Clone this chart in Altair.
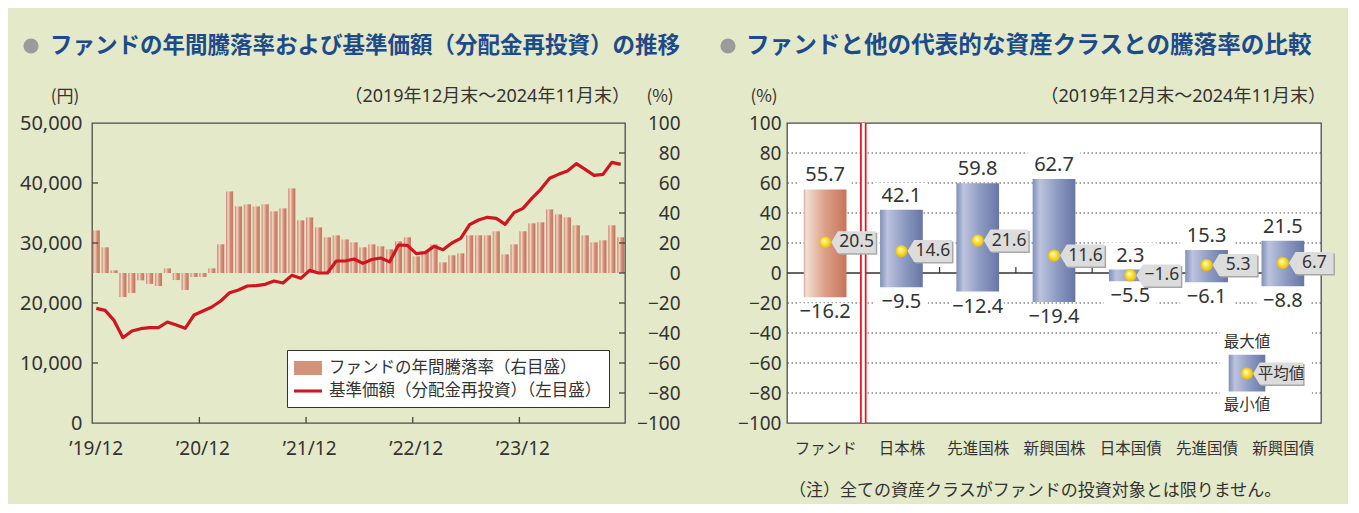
import json
import altair as alt
import pandas as pd

LATIN = "Noto Sans, Noto Sans CJK JP, sans-serif"
JP = "Noto Sans CJK JP, Noto Sans, sans-serif"
BG = "#e3e9c9"
TXT = "#333333"
TITLE_BLUE = "#1d4b8a"
RED = "#cf1520"
BULLET = "#9b9b9b"

# ---------------- left chart data ----------------
months = []
_y, _m = 2019, 12
for _ in range(60):
    months.append(f"{_y}-{_m:02d}")
    _m += 1
    if _m > 12:
        _m, _y = 1, _y + 1

year_ticks = ["2019-12", "2020-12", "2021-12", "2022-12", "2023-12"]

annual_return = [28.4, 17.1, 1.8, -16.0, -13.3, -4.9, -7.3, -8.7, 3.1, -4.7,
                 -11.3, -2.7, -2.7, 3.1, 19.1, 54.4, 44.4, 45.8, 44.4, 45.8,
                 41.1, 43.1, 56.4, 35.1, 37.1, 30.4, 23.8, 25.1, 22.4, 20.4,
                 17.1, 19.1, 17.8, 15.8, 21.1, 23.8, 11.1, 14.4, 19.1, 7.1,
                 11.8, 13.1, 25.1, 25.1, 25.1, 27.8, 12.4, 19.1, 27.8, 33.1,
                 33.8, 42.4, 39.1, 37.1, 31.8, 25.1, 20.4, 21.8, 31.8, 23.8]

nav = [19100, 18780, 17100, 14220, 15330, 15720, 15890, 15890, 16830, 16330,
       15780, 18000, 18670, 19330, 20330, 21720, 22170, 22830, 22890, 23110,
       23670, 23330, 24610, 24110, 25440, 25000, 25000, 27000, 27000, 27330,
       26600, 27250, 27500, 26850, 29670, 29610, 28220, 28390, 29440, 28890,
       30000, 30780, 33060, 33830, 34280, 34110, 33110, 35060, 35780, 37440,
       38940, 40780, 41440, 42000, 43220, 42280, 41280, 41440, 43440, 43110]

yen_ticks = [0, 10000, 20000, 30000, 40000, 50000]
pct_ticks = [-100, -80, -60, -40, -20, 0, 20, 40, 60, 80, 100]
legend_labels = ["ファンドの年間騰落率（右目盛）", "基準価額（分配金再投資）（左目盛）"]

# ---------------- right chart data ----------------
cats = ["ファンド", "日本株", "先進国株", "新興国株", "日本国債", "先進国債", "新興国債"]
max_v = [55.7, 42.1, 59.8, 62.7, 2.3, 15.3, 21.5]
min_v = [-16.2, -9.5, -12.4, -19.4, -5.5, -6.1, -8.8]
avg_v = [20.5, 14.6, 21.6, 11.6, -1.6, 5.3, 6.7]
key_pos = [6.03]
key_max = [-54.5]
key_min = [-79.0]
key_avg = [-67.0]
key_texts = ["最大値", "平均値", "最小値"]

LW, LH = 533, 300
RW, RH = 534, 300

BAR_GRAD = {"gradient": "linear", "x1": 0, "y1": 0, "x2": 1, "y2": 0,
            "stops": [{"offset": 0, "color": "#c97f67"}, {"offset": 0.3, "color": "#f2d5c7"},
                      {"offset": 0.6, "color": "#d48f76"}, {"offset": 1, "color": "#c4735b"}]}
FUND_GRAD = {"gradient": "linear", "x1": 0, "y1": 0, "x2": 1, "y2": 0,
             "stops": [{"offset": 0, "color": "#d9a08a"}, {"offset": 0.05, "color": "#f3e0d4"},
                       {"offset": 0.5, "color": "#dc9f88"}, {"offset": 1, "color": "#c8735b"}]}
BLUE_GRAD = {"gradient": "linear", "x1": 0, "y1": 0, "x2": 1, "y2": 0,
             "stops": [{"offset": 0, "color": "#8090b8"}, {"offset": 0.17, "color": "#bcc3dd"},
                       {"offset": 0.55, "color": "#8f9cc3"}, {"offset": 1, "color": "#6676a5"}]}
DOT_GRAD = {"gradient": "radial", "x1": 0.4, "y1": 0.35, "r1": 0, "x2": 0.5, "y2": 0.5, "r2": 0.55,
            "stops": [{"offset": 0, "color": "#fffde0"}, {"offset": 0.4, "color": "#ffe84a"},
                      {"offset": 1, "color": "#e3b000"}]}


def txt(s, x, y, size, color=TXT, align="left", font=JP, weight="normal"):
    return alt.Chart(pd.DataFrame({"t": [s]})).mark_text(
        align=align, baseline="middle", font=font, fontSize=size, color=color, fontWeight=weight
    ).encode(text="t:N", x=alt.value(x), y=alt.value(y))


def bullet(x, y):
    return alt.Chart(pd.DataFrame({"t": [0]})).mark_circle(size=230, color=BULLET, opacity=1).encode(
        x=alt.value(x), y=alt.value(y))


# ================= LEFT CHART =================
ldf = pd.DataFrame({"month": months, "ret": annual_return, "nav": nav})

xL_scale = alt.Scale(domain=months, paddingInner=0.2, paddingOuter=0.08)
xL_axis = alt.Axis(values=year_ticks,
                   labelExpr="'\u2019' + slice(datum.value, 2, 4) + '/' + slice(datum.value, 5)",
                   labelFont=LATIN, labelFontSize=19, labelColor=TXT, labelPadding=16, labelAngle=0,
                   ticks=False, domain=False, grid=False, title=None, bandPosition=0,
                   labelOverlap=False)

bars = alt.Chart(ldf).mark_bar(color=BAR_GRAD).encode(
    x=alt.X("month:O", scale=xL_scale, axis=xL_axis),
    y=alt.Y("ret:Q", scale=alt.Scale(domain=[-100, 100], nice=False),
            axis=alt.Axis(orient="right", values=pct_ticks, labelFont=LATIN, labelFontSize=19,
                          labelColor=TXT, labelAlign="right", labelPadding=55, ticks=False,
                          domain=False, grid=False, title=None, labelOverlap=False)),
)

line = alt.Chart(ldf).mark_line(color=RED, strokeWidth=3.2, strokeJoin="round").encode(
    x=alt.X("month:O", scale=xL_scale, axis=xL_axis),
    y=alt.Y("nav:Q", scale=alt.Scale(domain=[0, 50000], nice=False),
            axis=alt.Axis(orient="left", values=yen_ticks, labelExpr="format(datum.value, ',')",
                          labelFont=LATIN, labelFontSize=20, labelColor=TXT, labelPadding=10,
                          ticks=False, domain=False, grid=False, title=None, labelOverlap=False)),
)

ytick_yen = alt.Chart(pd.DataFrame({"v": yen_ticks[1:-1]})).mark_rule(color="#444", strokeWidth=1.3).encode(
    y=alt.Y("v:Q", scale=alt.Scale(domain=[0, 50000], nice=False), axis=None),
    x=alt.value(0), x2=alt.value(6))
ytick_pct = alt.Chart(pd.DataFrame({"v": pct_ticks[1:-1]})).mark_rule(color="#444", strokeWidth=1.3).encode(
    y=alt.Y("v:Q", scale=alt.Scale(domain=[-100, 100], nice=False), axis=None),
    x=alt.value(LW - 6), x2=alt.value(LW))
xticks = alt.Chart(ldf).transform_filter(
    alt.FieldOneOfPredicate(field="month", oneOf=year_ticks[1:])
).mark_rule(color="#444", strokeWidth=1.3).encode(
    x=alt.X("month:O", scale=xL_scale, axis=xL_axis, bandPosition=0),
    y=alt.value(LH), y2=alt.value(LH - 6))

legend_layer = alt.Chart(pd.DataFrame({"s": legend_labels})).transform_filter("false").mark_square(
    opacity=1, filled=True).encode(
    color=alt.Color("s:N", scale=alt.Scale(domain=legend_labels, range=["#d3937b", RED]),
                    legend=alt.Legend(
                        title=None, orient="bottom-right", offset=16, padding=7,
                        strokeColor="#333", fillColor="white", labelFont=JP, labelFontSize=16.5,
                        labelColor=TXT, labelLimit=600, symbolSize=484, symbolStrokeWidth=0,
                        rowPadding=3, labelOffset=10, symbolOffset=3,
                        symbolType={"expr": "datum.index === 0 ? 'M -1.27 -0.64 L 1.27 -0.64 L 1.27 0.64 L -1.27 0.64 Z' : 'M -1.27 -0.14 L 1.27 -0.14 L 1.27 0.14 L -1.27 0.14 Z'"},
                    )))

left = alt.layer(
    bars, line, ytick_yen, ytick_pct, xticks, legend_layer,
    bullet(-61, -77),
    txt("ファンドの年間騰落率および基準価額（分配金再投資）の推移", -42, -77, 22.5, TITLE_BLUE, weight="bold"),
    txt("(円)", -27, -26, 17, align="center"),
    txt("(%)", 568, -26, 17, align="center"),
    txt("（2019年12月末～2024年11月末）", 538, -26, 18, align="right", font=LATIN),
).resolve_scale(y="independent").properties(width=LW, height=LH)

# ================= RIGHT CHART =================
rdf = pd.DataFrame({"cat": cats, "pos": [i + 0.5 for i in range(len(cats))],
                    "maxv": max_v, "minv": min_v, "avgv": avg_v})
xR_scale = alt.Scale(domain=[0, len(cats)], nice=False, zero=False)
xR_axis = alt.Axis(values=[i + 0.5 for i in range(len(cats))],
                   labelExpr=json.dumps(cats, ensure_ascii=False) + "[floor(datum.value)]",
                   labelFont=JP, labelFontSize=15.5, labelColor=TXT, labelPadding=18,
                   ticks=False, domain=False, grid=False, title=None, labelOverlap=False)
yR_scale = alt.Scale(domain=[-100, 100], nice=False)
yR_axis = alt.Axis(values=pct_ticks, labelFont=LATIN, labelFontSize=19, labelColor=TXT,
                   labelPadding=6, ticks=False, domain=False, grid=False, title=None,
                   labelOverlap=False)


def XR(f):
    return alt.X(f, scale=xR_scale, axis=xR_axis)


def YR(f):
    return alt.Y(f, scale=yR_scale, axis=yR_axis)


BOX = "M 0.55 0 L 1.15 -1 L 4.6 -1 L 4.6 1 L 1.15 1 Z"
KEYBOX = "M 0.55 0 L 1.15 -1 L 5.1 -1 L 5.1 1 L 1.15 1 Z"
LBLBG = "M -2.4 -1 L 2.4 -1 L 2.4 1 L -2.4 1 Z"

rbase = alt.Chart(rdf).transform_calculate(xa="datum.pos - 0.28", xb="datum.pos + 0.28")
fund_sel = f"datum.cat == '{cats[0]}'"
other_sel = f"datum.cat != '{cats[0]}'"

grid = alt.Chart(pd.DataFrame({"v": [t for t in pct_ticks if t not in (-100, 0, 100)]})).mark_rule(
    color="#4a4a4a", strokeWidth=1.1, strokeDash=[1.5, 2.5]).encode(y=YR("v:Q"))
zero_rule = alt.Chart(pd.DataFrame({"v": [0]})).mark_rule(color="#333", strokeWidth=1.5).encode(y=YR("v:Q"))
fund_bar = rbase.transform_filter(fund_sel).mark_bar(color=FUND_GRAD).encode(
    x=XR("xa:Q"), x2="xb:Q", y=YR("maxv:Q"), y2="minv:Q")
other_bars = rbase.transform_filter(other_sel).mark_bar(color=BLUE_GRAD).encode(
    x=XR("xa:Q"), x2="xb:Q", y=YR("maxv:Q"), y2="minv:Q")
bticks = alt.Chart(pd.DataFrame({"b": list(range(1, len(cats))), "y0": 0, "y1": 4})).mark_rule(
    color="#333", strokeWidth=1.2).encode(x=XR("b:Q"), y=YR("y0:Q"), y2="y1:Q")
sep_red = alt.Chart(pd.DataFrame({"b": [1]})).mark_rule(color="#e8141c", strokeWidth=6.5).encode(x=XR("b:Q"))
sep_white = alt.Chart(pd.DataFrame({"b": [1]})).mark_rule(color="white", strokeWidth=3).encode(x=XR("b:Q"))

bg_max = alt.Chart(rdf).mark_point(shape=LBLBG, size=484, filled=True, color="white", opacity=1,
                                   strokeWidth=0, yOffset=-16).encode(x=XR("pos:Q"), y=YR("maxv:Q"))
bg_min = alt.Chart(rdf).mark_point(shape=LBLBG, size=484, filled=True, color="white", opacity=1,
                                   strokeWidth=0, yOffset=17).encode(x=XR("pos:Q"), y=YR("minv:Q"))
lbl_max = alt.Chart(rdf).mark_text(baseline="bottom", dy=-4, font=LATIN, fontSize=20, color=TXT).encode(
    x=XR("pos:Q"), y=YR("maxv:Q"), text=alt.Text("maxv:Q", format=".1f"))
lbl_min = alt.Chart(rdf).mark_text(baseline="top", dy=5, font=LATIN, fontSize=20, color=TXT).encode(
    x=XR("pos:Q"), y=YR("minv:Q"), text=alt.Text("minv:Q", format=".1f"))

avg_shadow = alt.Chart(rdf).mark_point(shape=BOX, size=484, filled=True, color="#a8a8a8", opacity=1,
                                       strokeWidth=0, xOffset=1.5, yOffset=1.5).encode(x=XR("pos:Q"), y=YR("avgv:Q"))
avg_box = alt.Chart(rdf).mark_point(shape=BOX, size=484, filled=True, color="#dcdcdc", opacity=1,
                                    strokeWidth=0).encode(x=XR("pos:Q"), y=YR("avgv:Q"))
avg_dot = alt.Chart(rdf).mark_circle(size=150, color=DOT_GRAD, opacity=1).encode(x=XR("pos:Q"), y=YR("avgv:Q"))
avg_txt = alt.Chart(rdf).mark_text(align="center", baseline="middle", dx=31.5, font=LATIN, fontSize=17.5,
                                   color=TXT).encode(x=XR("pos:Q"), y=YR("avgv:Q"),
                                                     text=alt.Text("avgv:Q", format=".1f"))

kdf = pd.DataFrame({"kx": key_pos, "kmax": key_max, "kmin": key_min, "kavg": key_avg,
                    "tmax": [key_texts[0]], "tavg": [key_texts[1]], "tmin": [key_texts[2]]})
kbase = alt.Chart(kdf).transform_calculate(
    xa="datum.kx - 0.24", xb="datum.kx + 0.24",
    bx1="datum.kx - 0.355", bx2="datum.kx + 0.85", by1="-37", by2="-97")
key_bg = kbase.mark_rect(color="white").encode(x=XR("bx1:Q"), x2="bx2:Q", y=YR("by1:Q"), y2="by2:Q")
key_bar = kbase.mark_bar(color=BLUE_GRAD).encode(x=XR("xa:Q"), x2="xb:Q", y=YR("kmax:Q"), y2="kmin:Q")
key_tmax = kbase.mark_text(baseline="bottom", dy=-5, font=JP, fontSize=15.5, color=TXT).encode(
    x=XR("kx:Q"), y=YR("kmax:Q"), text="tmax:N")
key_tmin = kbase.mark_text(baseline="top", dy=6, font=JP, fontSize=15.5, color=TXT).encode(
    x=XR("kx:Q"), y=YR("kmin:Q"), text="tmin:N")
key_shadow = kbase.mark_point(shape=KEYBOX, size=484, filled=True, color="#a8a8a8", opacity=1,
                              strokeWidth=0, xOffset=1.5, yOffset=1.5).encode(x=XR("kx:Q"), y=YR("kavg:Q"))
key_box = kbase.mark_point(shape=KEYBOX, size=484, filled=True, color="#dcdcdc", opacity=1,
                           strokeWidth=0).encode(x=XR("kx:Q"), y=YR("kavg:Q"))
key_dot = kbase.mark_circle(size=150, color=DOT_GRAD, opacity=1).encode(x=XR("kx:Q"), y=YR("kavg:Q"))
key_tavg = kbase.mark_text(align="center", baseline="middle", dx=34, font=JP, fontSize=15.5,
                           color=TXT).encode(x=XR("kx:Q"), y=YR("kavg:Q"), text="tavg:N")

right = alt.layer(
    grid, zero_rule, fund_bar, other_bars, bticks, sep_red, sep_white,
    bg_max, bg_min, lbl_max, lbl_min,
    avg_shadow, avg_box, avg_dot, avg_txt,
    key_bg, key_bar, key_tmax, key_tmin, key_shadow, key_box, key_dot, key_tavg,
    bullet(-59, -77),
    txt("ファンドと他の代表的な資産クラスとの騰落率の比較", -41, -77, 23.6, TITLE_BLUE, weight="bold"),
    txt("(%)", -23, -26, 17, align="center"),
    txt("（2019年12月末～2024年11月末）", 539, -26, 18, align="right", font=LATIN),
    txt("（注）全ての資産クラスがファンドの投資対象とは限りません。", 2, 368, 17),
).properties(width=RW, height=RH)

chart = alt.hconcat(left, right, spacing=38).resolve_legend(color="independent").properties(
    background=BG,
    padding={"left": 10, "top": 25, "right": 12, "bottom": 4},
).configure_view(stroke="#4d4d4d", strokeWidth=1.3, fill="white")

chart.save("out.html", embed_options={"renderer": "svg", "actions": False})
